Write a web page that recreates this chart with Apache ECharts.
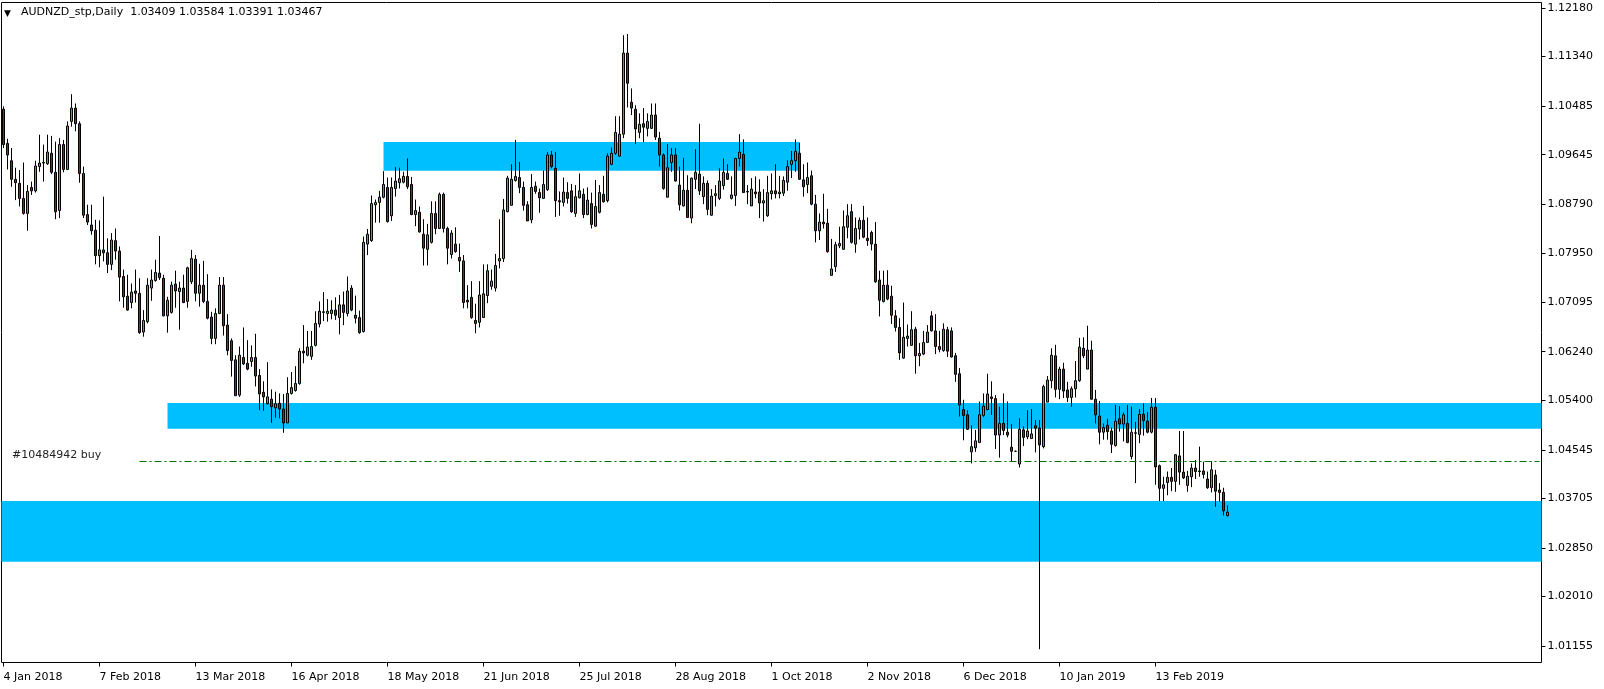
<!DOCTYPE html>
<html><head><meta charset="utf-8">
<script src="https://cdn.jsdelivr.net/npm/echarts@6/dist/echarts.min.js"></script>
<style>html,body{margin:0;padding:0;background:#fff}#c{width:1604px;height:689px}</style>
</head><body><div id="c"></div>
<script>
const symbolName = 'AUDNZD_stp,Daily';
const tickLabels = ['4 Jan 2018','7 Feb 2018','13 Mar 2018','16 Apr 2018','18 May 2018','21 Jun 2018','25 Jul 2018','28 Aug 2018','1 Oct 2018','2 Nov 2018','6 Dec 2018','10 Jan 2019','13 Feb 2019'];
const priceTicks = [1.12180,1.11340,1.10485,1.09645,1.08790,1.07950,1.07095,1.06240,1.05400,1.04545,1.03705,1.02850,1.02010,1.01155];

const opens = [
1.1043,1.0984,1.0954,1.0922,1.0915,1.0889,1.0863,1.0908,1.0902,1.0944,
1.0950,1.0949,1.0967,1.0934,1.0868,1.0982,1.0939,1.1022,1.1045,1.1018,
1.0932,1.0861,1.0843,1.0834,1.0790,1.0800,1.0795,1.0775,1.0816,1.0798,
1.0754,1.0720,1.0709,1.0729,1.0725,1.0658,1.0676,1.0734,1.0747,1.0760,
1.0751,1.0686,1.0692,1.0741,1.0728,1.0734,1.0711,1.0745,1.0784,1.0725,
1.0739,1.0711,1.0684,1.0647,1.0690,1.0739,1.0670,1.0643,1.0610,1.0549,
1.0614,1.0604,1.0607,1.0614,1.0583,1.0554,1.0534,1.0542,1.0527,1.0535,
1.0525,1.0501,1.0552,1.0557,1.0569,1.0625,1.0618,1.0616,1.0635,1.0672,
1.0692,1.0690,1.0690,1.0696,1.0683,1.0705,1.0690,1.0734,1.0687,1.0683,
1.0659,1.0810,1.0816,1.0878,1.0882,1.0891,1.0908,1.0859,1.0906,1.0916,
1.0917,1.0927,1.0913,1.0861,1.0865,1.0827,1.0801,1.0813,1.0863,1.0837,
1.0896,1.0837,1.0792,1.0810,1.0787,1.0781,1.0713,1.0718,1.0678,1.0675,
1.0683,1.0721,1.0737,1.0734,1.0781,1.0785,1.0866,1.0877,1.0920,1.0925,
1.0908,1.0878,1.0852,1.0910,1.0899,1.0889,1.0904,1.0964,1.0941,1.0885,
1.0882,1.0899,1.0902,1.0863,1.0890,1.0896,1.0861,1.0880,1.0841,1.0865,
1.0896,1.0885,1.0948,1.0967,1.0962,1.1000,1.1140,1.1055,1.1043,1.1003,
1.1018,1.1010,1.1010,1.1033,1.0993,1.0964,1.0891,1.0951,1.0964,1.0912,
1.0876,1.0903,1.0855,1.0922,1.0931,1.0892,1.0915,1.0860,1.0894,1.0889,
1.0911,1.0932,1.0889,1.0894,1.0958,1.0965,1.0900,1.0876,1.0900,1.0900,
1.0881,1.0859,1.0897,1.0902,1.0897,1.0898,1.0917,1.0948,1.0954,1.0967,
1.0921,1.0913,1.0928,1.0879,1.0833,1.0848,1.0846,1.0756,1.0771,1.0807,
1.0801,1.0839,1.0866,1.0810,1.0836,1.0851,1.0820,1.0830,1.0810,1.0748,
1.0711,1.0739,1.0720,1.0686,1.0666,1.0613,1.0647,1.0635,1.0663,1.0617,
1.0620,1.0640,1.0686,1.0660,1.0633,1.0626,1.0662,1.0660,1.0617,1.0586,
1.0524,1.0515,1.0451,1.0458,1.0467,1.0514,1.0524,1.0546,1.0543,1.0480,
1.0500,1.0485,1.0459,1.0452,1.0430,1.0489,1.0477,1.0474,1.0496,1.0492,
1.0460,1.0537,1.0574,1.0617,1.0559,1.0594,1.0558,1.0545,1.0560,1.0574,
1.0630,1.0594,1.0627,1.0542,1.0513,1.0485,1.0497,1.0487,1.0462,1.0508,
1.0499,1.0500,1.0443,1.0483,1.0481,1.0516,1.0504,1.0485,1.0528,1.0427,
1.0388,1.0398,1.0407,1.0400,1.0444,1.0416,1.0393,1.0408,1.0423,1.0417,
1.0418,1.0404,1.0389,1.0411,1.0385,1.0381,1.03409];

const highs = [
1.1048,1.0992,1.0976,1.0942,1.0938,1.0951,1.0912,1.0918,1.0954,1.0999,
1.0982,1.0999,1.0997,1.0987,1.0993,1.0990,1.1022,1.1069,1.1053,1.1022,
1.0944,1.0878,1.0878,1.0852,1.0851,1.0892,1.0820,1.0829,1.0837,1.0806,
1.0766,1.0757,1.0742,1.0766,1.0751,1.0696,1.0751,1.0766,1.0783,1.0824,
1.0757,1.0719,1.0745,1.0764,1.0745,1.0757,1.0771,1.0800,1.0791,1.0776,
1.0781,1.0758,1.0693,1.0699,1.0753,1.0753,1.0689,1.0647,1.0618,1.0633,
1.0666,1.0644,1.0635,1.0655,1.0594,1.0573,1.0606,1.0559,1.0555,1.0552,
1.0551,1.0580,1.0589,1.0599,1.0630,1.0670,1.0660,1.0660,1.0694,1.0711,
1.0727,1.0715,1.0713,1.0718,1.0722,1.0728,1.0754,1.0739,1.0721,1.0695,
1.0823,1.0836,1.0894,1.0887,1.0902,1.0936,1.0925,1.0925,1.0943,1.0942,
1.0935,1.0958,1.0926,1.0887,1.0875,1.0853,1.0845,1.0884,1.0884,1.0899,
1.0899,1.0840,1.0834,1.0839,1.0811,1.0791,1.0739,1.0746,1.0707,1.0746,
1.0775,1.0775,1.0766,1.0793,1.0853,1.0888,1.0928,1.0948,1.0990,1.0952,
1.0918,1.0884,1.0931,1.0918,1.0906,1.0937,1.0969,1.0971,1.0969,1.0901,
1.0925,1.0917,1.0914,1.0912,1.0932,1.0906,1.0908,1.0899,1.0921,1.0912,
1.0928,1.0967,1.0977,1.1031,1.1031,1.1171,1.1173,1.1079,1.1050,1.1036,
1.1045,1.1036,1.1053,1.1053,1.1004,1.0967,1.0983,1.0976,1.0976,1.0944,
1.0959,1.0929,1.0925,1.0974,1.1018,1.0927,1.0920,1.0905,1.0912,1.0941,
1.0958,1.0948,1.0927,1.0959,1.1000,1.0991,1.0912,1.0924,1.0927,1.0922,
1.0905,1.0928,1.0932,1.0948,1.0928,1.0927,1.0955,1.0971,1.0991,1.0985,
1.0948,1.0951,1.0937,1.0895,1.0863,1.0897,1.0871,1.0819,1.0814,1.0840,
1.0868,1.0879,1.0879,1.0856,1.0856,1.0876,1.0856,1.0833,1.0848,1.0764,
1.0764,1.0765,1.0738,1.0696,1.0682,1.0709,1.0671,1.0694,1.0667,1.0639,
1.0660,1.0670,1.0694,1.0689,1.0660,1.0673,1.0667,1.0666,1.0622,1.0596,
1.0541,1.0523,1.0497,1.0489,1.0538,1.0552,1.0586,1.0573,1.0549,1.0529,
1.0552,1.0538,1.0499,1.0453,1.0509,1.0495,1.0523,1.0525,1.0506,1.0506,
1.0567,1.0582,1.0630,1.0636,1.0598,1.0605,1.0572,1.0564,1.0608,1.0648,
1.0649,1.0669,1.0643,1.0558,1.0539,1.0500,1.0508,1.0493,1.0532,1.0530,
1.0519,1.0532,1.0529,1.0503,1.0525,1.0535,1.0520,1.0544,1.0544,1.0429,
1.0408,1.0417,1.0423,1.0447,1.0487,1.0487,1.0418,1.0431,1.0437,1.0460,
1.0434,1.0417,1.0435,1.0420,1.0397,1.0389,1.03584];

const lows = [
1.0976,1.0939,1.0909,1.0886,1.0875,1.0861,1.0833,1.0895,1.0899,1.0935,
1.0918,1.0947,1.0931,1.0853,1.0855,1.0934,1.0939,1.1013,1.1005,1.0916,
1.0855,1.0843,1.0826,1.0775,1.0770,1.0780,1.0760,1.0765,1.0783,1.0711,
1.0700,1.0695,1.0699,1.0709,1.0655,1.0650,1.0673,1.0712,1.0745,1.0748,
1.0685,1.0657,1.0690,1.0700,1.0662,1.0708,1.0700,1.0741,1.0711,1.0702,
1.0708,1.0680,1.0637,1.0637,1.0689,1.0652,1.0618,1.0581,1.0548,1.0546,
1.0601,1.0592,1.0598,1.0564,1.0523,1.0522,1.0533,1.0501,1.0510,1.0509,
1.0484,1.0501,1.0550,1.0555,1.0567,1.0604,1.0616,1.0610,1.0633,1.0666,
1.0677,1.0676,1.0680,1.0679,1.0654,1.0670,1.0685,1.0694,1.0673,1.0655,
1.0657,1.0791,1.0814,1.0847,1.0847,1.0889,1.0847,1.0850,1.0892,1.0906,
1.0915,1.0905,1.0860,1.0841,1.0830,1.0773,1.0773,1.0811,1.0827,1.0836,
1.0830,1.0775,1.0785,1.0795,1.0762,1.0699,1.0699,1.0681,1.0656,1.0666,
1.0683,1.0708,1.0731,1.0728,1.0768,1.0779,1.0865,1.0877,1.0918,1.0898,
1.0868,1.0850,1.0846,1.0897,1.0864,1.0889,1.0902,1.0941,1.0857,1.0859,
1.0875,1.0880,1.0864,1.0857,1.0889,1.0855,1.0860,1.0837,1.0840,1.0863,
1.0882,1.0882,1.0946,1.0964,1.0961,1.0993,1.1046,1.1033,1.0983,1.0993,
1.0986,1.0996,1.1009,1.0990,1.0944,1.0904,1.0891,1.0935,1.0918,1.0868,
1.0875,1.0855,1.0846,1.0905,1.0895,1.0879,1.0860,1.0859,1.0875,1.0886,
1.0904,1.0921,1.0887,1.0876,1.0944,1.0899,1.0879,1.0876,1.0889,1.0855,
1.0849,1.0857,1.0887,1.0889,1.0889,1.0893,1.0902,1.0924,1.0935,1.0921,
1.0892,1.0898,1.0877,1.0813,1.0817,1.0837,1.0795,1.0756,1.0762,1.0803,
1.0800,1.0820,1.0811,1.0795,1.0818,1.0820,1.0807,1.0799,1.0743,1.0685,
1.0709,1.0713,1.0672,1.0659,1.0610,1.0612,1.0633,1.0634,1.0586,1.0599,
1.0618,1.0639,1.0659,1.0620,1.0623,1.0624,1.0615,1.0614,1.0572,1.0512,
1.0471,1.0489,1.0431,1.0451,1.0467,1.0511,1.0523,1.0515,1.0456,1.0441,
1.0480,1.0476,1.0434,1.0451,1.0424,1.0461,1.0473,1.0474,1.0450,1.0110,
1.0457,1.0537,1.0561,1.0545,1.0542,1.0544,1.0537,1.0529,1.0545,1.0572,
1.0613,1.0594,1.0541,1.0500,1.0464,1.0472,1.0472,1.0449,1.0460,1.0486,
1.0469,1.0466,1.0438,1.0397,1.0466,1.0479,1.0483,1.0483,1.0394,1.0366,
1.0366,1.0376,1.0383,1.0382,1.0394,1.0404,1.0382,1.0390,1.0404,1.0408,
1.0405,1.0387,1.0381,1.0356,1.0365,1.0341,1.03391];

const closes = [
1.0982,1.0964,1.0922,1.0916,1.0889,1.0863,1.0901,1.0902,1.0945,1.0950,
1.0951,1.0969,1.0934,1.0866,1.0982,1.0939,1.1014,1.1045,1.1018,1.0932,
1.0860,1.0848,1.0833,1.0790,1.0800,1.0795,1.0775,1.0817,1.0798,1.0753,
1.0719,1.0696,1.0727,1.0725,1.0657,1.0678,1.0739,1.0748,1.0761,1.0752,
1.0686,1.0713,1.0739,1.0729,1.0734,1.0709,1.0769,1.0785,1.0725,1.0739,
1.0711,1.0682,1.0647,1.0690,1.0739,1.0669,1.0626,1.0609,1.0548,1.0618,
1.0603,1.0594,1.0614,1.0582,1.0551,1.0546,1.0546,1.0529,1.0534,1.0525,
1.0501,1.0552,1.0562,1.0569,1.0625,1.0622,1.0632,1.0633,1.0673,1.0694,
1.0693,1.0694,1.0696,1.0687,1.0705,1.0692,1.0729,1.0696,1.0682,1.0657,
1.0813,1.0827,1.0880,1.0882,1.0891,1.0913,1.0849,1.0908,1.0919,1.0923,
1.0927,1.0909,1.0861,1.0868,1.0831,1.0803,1.0826,1.0863,1.0837,1.0896,
1.0837,1.0803,1.0829,1.0797,1.0781,1.0709,1.0710,1.0683,1.0673,1.0722,
1.0724,1.0764,1.0746,1.0773,1.0785,1.0869,1.0924,1.0922,1.0927,1.0908,
1.0877,1.0850,1.0908,1.0901,1.0890,1.0913,1.0964,1.0944,1.0885,1.0883,
1.0900,1.0889,1.0866,1.0892,1.0902,1.0861,1.0886,1.0844,1.0875,1.0899,
1.0883,1.0962,1.0967,1.1003,1.1000,1.1140,1.1088,1.1045,1.1009,1.1017,
1.1012,1.1022,1.1033,1.0995,1.0964,1.0906,1.0942,1.0964,1.0919,1.0878,
1.0903,1.0856,1.0924,1.0934,1.0902,1.0915,1.0870,1.0893,1.0897,1.0919,
1.0934,1.0922,1.0895,1.0958,1.0969,1.0899,1.0901,1.0905,1.0897,1.0881,
1.0885,1.0899,1.0902,1.0897,1.0900,1.0920,1.0944,1.0954,1.0970,1.0922,
1.0909,1.0925,1.0879,1.0833,1.0848,1.0845,1.0797,1.0767,1.0809,1.0811,
1.0840,1.0859,1.0813,1.0837,1.0851,1.0822,1.0816,1.0810,1.0745,1.0713,
1.0739,1.0715,1.0687,1.0666,1.0622,1.0649,1.0651,1.0662,1.0617,1.0621,
1.0640,1.0658,1.0660,1.0633,1.0628,1.0663,1.0625,1.0615,1.0585,1.0532,
1.0514,1.0490,1.0460,1.0470,1.0515,1.0530,1.0551,1.0543,1.0480,1.0500,
1.0488,1.0480,1.0452,1.0452,1.0490,1.0476,1.0487,1.0482,1.0492,1.0463,
1.0564,1.0575,1.0618,1.0559,1.0594,1.0556,1.0545,1.0560,1.0574,1.0632,
1.0617,1.0627,1.0542,1.0515,1.0485,1.0493,1.0486,1.0464,1.0504,1.0499,
1.0515,1.0467,1.0485,1.0484,1.0516,1.0505,1.0485,1.0528,1.0425,1.0388,
1.0394,1.0407,1.0400,1.0446,1.0416,1.0406,1.0409,1.0423,1.0417,1.0418,
1.0412,1.0389,1.0420,1.0383,1.0381,1.0349,1.03467];

// supply / demand zones (price bands and the bars they start / end on; null = chart edge)
const zoneTops = [1.09865, 1.05354, 1.03661];
const zoneBottoms = [1.09366, 1.04910, 1.02612];
const zoneFromBar = [95, 41, null];
const zoneToBar = [199, null, null];

// open trade level
const tradeLevel = 1.04343;
const tradeLabel = '#10484942 buy';
const tradeFromBar = 34;

const slotCount = 385;        // bar slots on the time axis (incl. empty right margin)
const barsPerLabel = 24;
const priceMin = 1.00870, priceMax = 1.122748;

const FONT = 'DejaVu Sans';
const last = opens.length - 1;
const header = symbolName + '  ' + [opens[last], highs[last], lows[last], closes[last]].map(v => v.toFixed(5)).join(' ');

const cats = Array.from({length: slotCount}, (_, i) => String(i));
const candles = opens.map((o, i) => [o, closes[i], lows[i], highs[i]]);
const showTick = (i) => i % barsPerLabel === 0 && (i / barsPerLabel) < tickLabels.length;

const zoneData = zoneTops.map((t, k) => {
  const a = {yAxis: t}, b = {yAxis: zoneBottoms[k]};
  if (zoneFromBar[k] !== null) a.xAxis = zoneFromBar[k];
  if (zoneToBar[k] !== null) b.xAxis = zoneToBar[k];
  return [a, b];
});

const chart = echarts.init(document.getElementById('c'), null, {renderer: 'canvas'});
chart.setOption({
  animation: false,
  backgroundColor: '#fff',
  grid: {left: 1.5, top: 2.5, width: 1540, height: 660, show: true, borderColor: '#000', borderWidth: 1, backgroundColor: '#fff'},
  xAxis: {
    type: 'category', data: cats, boundaryGap: true,
    axisLine: {show: false},
    axisTick: {show: true, alignWithLabel: true, interval: showTick, length: 4, lineStyle: {color: '#000'}},
    axisLabel: {interval: showTick, formatter: (v, i) => tickLabels[i / barsPerLabel] || '', align: 'left', margin: 8,
      color: '#000', fontFamily: FONT, fontSize: 11, lineHeight: 13},
    splitLine: {show: false}
  },
  yAxis: {
    type: 'value', position: 'right', min: priceMin, max: priceMax,
    splitLine: {show: false}, axisLine: {show: false},
    axisTick: {show: true, length: 4, customValues: priceTicks, lineStyle: {color: '#000'}},
    axisLabel: {customValues: priceTicks, formatter: v => v.toFixed(5), margin: 6, color: '#000', fontFamily: FONT, fontSize: 11}
  },
  graphic: [
    {type: 'text', left: 4, top: 9, style: {text: '\u25BC', font: '9px "DejaVu Sans"', fill: '#000'}},
    {type: 'text', left: 21, top: 7, style: {text: header, font: '11px "DejaVu Sans"', fill: '#000'}},
    {type: 'text', left: 12, top: 450, style: {text: tradeLabel, font: '11px "DejaVu Sans"', fill: '#222'}}
  ],
  series: [{
    type: 'candlestick',
    data: candles,
    barWidth: 2,
    itemStyle: {color: '#00e000', color0: '#e00000', borderColor: '#000', borderColor0: '#000', borderWidth: 1},
    emphasis: {disabled: true},
    markArea: {silent: true, itemStyle: {color: '#00bfff', opacity: 1}, data: zoneData},
    markLine: {
      silent: true, symbol: ['none', 'none'],
      data: [
        [{xAxis: tradeFromBar, yAxis: tradeLevel, lineStyle: {color: '#006e00', type: [7, 3, 2, 3], width: 1}, label: {show: false}},
         {xAxis: slotCount - 1, yAxis: tradeLevel}],
        {yAxis: closes[last], lineStyle: {opacity: 0},
         label: {show: true, position: 'end', distance: 1, formatter: closes[last].toFixed(5),
           color: '#fff', backgroundColor: '#000', padding: [1, 5, 0, 5], fontFamily: FONT, fontSize: 11, lineHeight: 12}}
      ]
    }
  }]
});
</script>
</body></html>
